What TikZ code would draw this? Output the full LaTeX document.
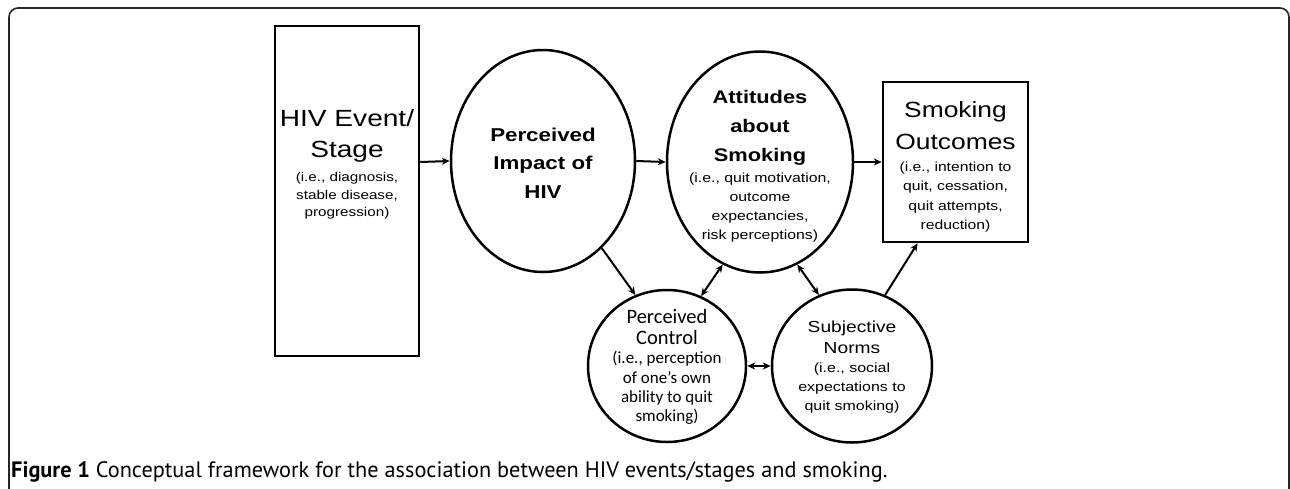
\documentclass[tikz,border=0pt]{standalone}
\usepackage{fontspec}
\setmainfont{Liberation Sans}[FakeStretch=1.2]
\newfontfamily\capfont{PT Sans}
\newfontfamily\calfont{Carlito}
\usetikzlibrary{arrows.meta,shapes.geometric}
\tikzset{
  box/.style={draw, line width=2.5pt},
  bubble/.style={draw, line width=2.5pt, ellipse, inner sep=0pt},
  arr/.style={line width=2pt, -{Stealth[length=8pt,width=7pt]}},
  darr/.style={line width=2pt, {Stealth[length=8pt,width=7pt]}-{Stealth[length=8pt,width=7pt]}},
  txt/.style={align=center, inner sep=0pt},
}
\begin{document}
\begin{tikzpicture}[x=1pt,y=-1pt]
\useasboundingbox (0,0) rectangle (1290,488);
\draw[line width=1.6pt, rounded corners=9pt, black!85] (9,492) -- (9,8) -- (1289,8) -- (1289,492);
% HIV box
\node[box, minimum width=144pt, minimum height=330pt, inner sep=0pt] (hiv) at (347,191) {};
\coordinate (hivR) at (hiv.east |- 0,162);
\node[txt, font=\fontsize{23.4}{31}\selectfont] at (347,136) {HIV Event/\\Stage};
\node[txt, font=\fontsize{12.7}{17.7}\selectfont] at (347,196) {(i.e., diagnosis,\\stable disease,\\progression)};
% Perceived impact
\node[bubble, minimum width=184pt, minimum height=222pt] (pi) at (543,161) {};
\node[txt, font=\bfseries\fontsize{18.6}{28.5}\selectfont] at (543,163) {Perceived\\Impact of\\HIV};
% Attitudes
\node[bubble, minimum width=186pt, minimum height=221pt] (att) at (760,162) {};
\node[txt, font=\bfseries\fontsize{18.2}{29}\selectfont] at (760,128) {Attitudes\\about\\Smoking};
\node[txt, font=\fontsize{13.2}{19}\selectfont] at (760,208) {(i.e., quit motivation,\\outcome\\expectancies,\\risk perceptions)};
% Smoking outcomes
\node[box, minimum width=145pt, minimum height=160pt, inner sep=0pt] (so) at (955.5,162) {};
\node[txt, font=\fontsize{22}{32}\selectfont] at (955.5,126) {Smoking\\Outcomes};
\node[txt, font=\fontsize{13.1}{19.3}\selectfont] at (955.5,197) {(i.e., intention to\\quit, cessation,\\quit attempts,\\reduction)};
% Perceived control
\node[bubble, minimum width=158pt, minimum height=152pt] (pc) at (667,366) {};
\node[txt, font=\calfont\fontsize{20.5}{21.5}\selectfont] at (667,327) {Perceived\\Control};
\node[txt, font=\calfont\fontsize{17}{19.3}\selectfont] at (667,388) {(i.e., perception\\of one’s own\\ability to quit\\smoking)};
% Subjective norms
\node[bubble, minimum width=160pt, minimum height=153pt] (sn) at (852,366) {};
\node[txt, font=\fontsize{16}{21}\selectfont] at (852,337) {Subjective\\Norms};
\node[txt, font=\fontsize{13.3}{19}\selectfont] at (852,388) {(i.e., social\\expectations to\\quit smoking)};
% connectors
\draw[arr] (hivR) -- (pi.west);
\draw[arr] (pi.east) -- (att.west);
\draw[arr] (att.east) -- (so.west);
\draw[arr] (pi.-56) -- (pc.114);
\draw[darr] (att.-110) -- (pc.64);
\draw[darr] (att.-70) -- (sn.115);
\draw[darr] (pc.east) -- (sn.west);
\draw[arr] (sn.65) -- (so.-115);
% caption
\node[anchor=base west, inner sep=0pt, font=\capfont\fontsize{22.3}{24}\selectfont] (cap) at (11,477) {\textbf{Figure 1} Conceptual framework for the association between HIV events/stages and smoking.};
\end{tikzpicture}
\end{document}
